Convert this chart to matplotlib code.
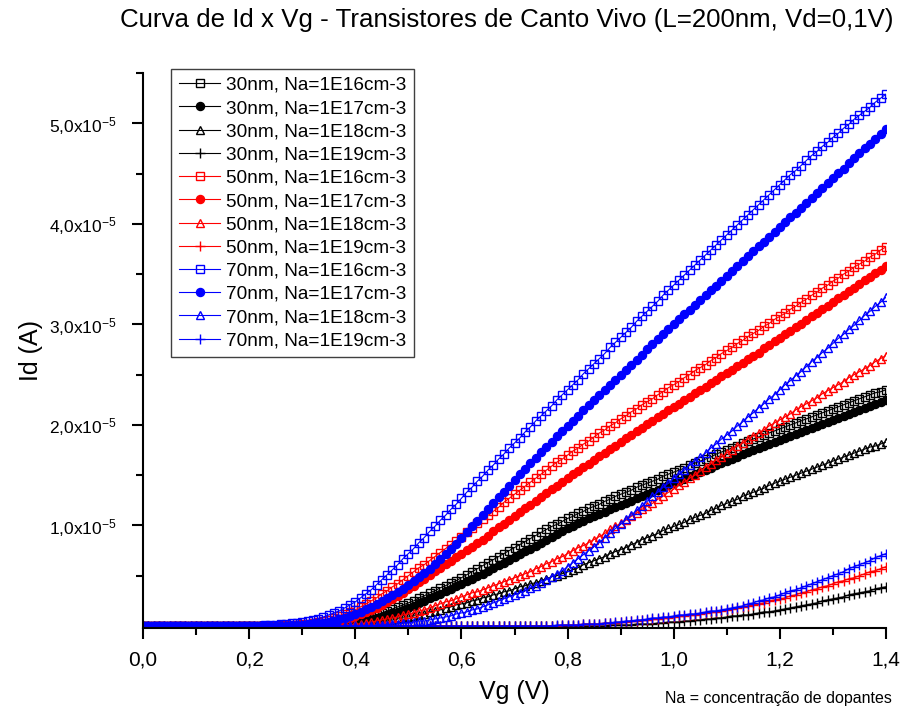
import numpy as np
import matplotlib
matplotlib.use("Agg")
import matplotlib.pyplot as plt
from matplotlib.ticker import MultipleLocator, FuncFormatter

plt.rcParams['font.family'] = ['Liberation Sans', 'DejaVu Sans']
plt.rcParams['mathtext.fontset'] = 'custom'
plt.rcParams['mathtext.rm'] = 'Liberation Sans'

# gate sweep 0 .. 1.4 V, 10 mV step
vg = np.round(np.arange(141) * 0.01, 2)

# drain current, in units of 1e-5 A, one value per gate step
id_30_16 = [0, 0, 0, 0, 0, 0, 0, 0, 0, 0,
            0, 0, 0, 0, 0, 0, 0, 0, 0, 0,
            0, 0, 0, 0, 0, 0, 0, 0, 0, 0,
            0, 0,
            0.00, 0.01, 0.01, 0.01, 0.02, 0.03, 0.04, 0.05, 0.06, 0.07, 0.08, 0.10, 0.11, 0.13,
            0.15, 0.17, 0.19, 0.21, 0.23, 0.25, 0.28, 0.30, 0.33, 0.35, 0.38, 0.40, 0.43, 0.45, 0.48,
            0.51, 0.54, 0.57, 0.60, 0.63, 0.66, 0.69, 0.72, 0.75, 0.78, 0.81, 0.84, 0.87, 0.90, 0.93,
            0.96, 0.99, 1.01, 1.04, 1.07, 1.09, 1.12, 1.14, 1.17, 1.19, 1.21, 1.24, 1.26, 1.29, 1.31,
            1.33, 1.35, 1.38, 1.40, 1.42, 1.44, 1.46, 1.49, 1.51, 1.53, 1.55, 1.57, 1.60, 1.62, 1.64,
            1.66, 1.68, 1.71, 1.73, 1.75, 1.77, 1.79, 1.82, 1.84, 1.86, 1.88, 1.90, 1.92, 1.94, 1.96,
            1.98, 2.00, 2.02, 2.04, 2.06, 2.08, 2.10, 2.12, 2.14, 2.16, 2.18, 2.20, 2.22, 2.24, 2.26,
            2.28, 2.30, 2.32, 2.33, 2.35]
id_30_17 = [0, 0, 0, 0, 0, 0, 0, 0, 0, 0,
            0, 0, 0, 0, 0, 0, 0, 0, 0, 0,
            0, 0, 0, 0, 0, 0, 0, 0, 0, 0,
            0, 0, 0, 0, 0,
            0.00,
            0.01, 0.01, 0.02, 0.02, 0.03, 0.04, 0.05, 0.06, 0.08, 0.09, 0.11, 0.13, 0.14, 0.16, 0.18,
            0.20, 0.23, 0.25, 0.28, 0.30, 0.32, 0.35, 0.37, 0.40, 0.42, 0.45, 0.47, 0.50, 0.52, 0.55,
            0.58, 0.61, 0.63, 0.66, 0.69, 0.72, 0.75, 0.77, 0.80, 0.83, 0.86, 0.89, 0.91, 0.94, 0.97,
            0.99, 1.02, 1.04, 1.07, 1.09, 1.11, 1.13, 1.16, 1.18, 1.20, 1.22, 1.24, 1.27, 1.29, 1.31,
            1.33, 1.35, 1.38, 1.40, 1.42, 1.44, 1.46, 1.49, 1.51, 1.53, 1.55, 1.57, 1.60, 1.62, 1.64,
            1.66, 1.68, 1.71, 1.73, 1.75, 1.77, 1.79, 1.81, 1.83, 1.85, 1.87, 1.89, 1.91, 1.93, 1.95,
            1.97, 1.99, 2.01, 2.03, 2.05, 2.07, 2.09, 2.11, 2.13, 2.15, 2.17, 2.19, 2.21, 2.23, 2.25]
id_30_18 = [0, 0, 0, 0, 0, 0, 0, 0, 0, 0,
            0, 0, 0, 0, 0, 0, 0, 0, 0, 0,
            0, 0, 0, 0, 0, 0, 0, 0, 0, 0,
            0, 0, 0, 0, 0, 0, 0, 0,
            0.00, 0.01, 0.01, 0.01, 0.02, 0.02, 0.03, 0.04, 0.05, 0.06, 0.07, 0.08, 0.09,
            0.10, 0.11, 0.12, 0.14, 0.15, 0.16, 0.18, 0.19, 0.21, 0.22, 0.23, 0.25, 0.26, 0.28, 0.29,
            0.31, 0.32, 0.34, 0.35, 0.37, 0.39, 0.40, 0.42, 0.43, 0.45, 0.47, 0.49, 0.50, 0.52, 0.54,
            0.56, 0.58, 0.61, 0.63, 0.65, 0.67, 0.69, 0.72, 0.74, 0.76, 0.78, 0.81, 0.83, 0.86, 0.88,
            0.90, 0.92, 0.95, 0.97, 0.99, 1.01, 1.03, 1.06, 1.08, 1.10, 1.12, 1.15, 1.17, 1.20, 1.22,
            1.24, 1.26, 1.29, 1.31, 1.33, 1.35, 1.37, 1.40, 1.42, 1.44, 1.46, 1.48, 1.50, 1.52, 1.54,
            1.56, 1.58, 1.60, 1.62, 1.64, 1.66, 1.68, 1.70, 1.72, 1.74, 1.76, 1.78, 1.79, 1.81, 1.83]
id_30_19 = [0, 0, 0, 0, 0, 0, 0, 0, 0, 0,
            0, 0, 0, 0, 0, 0, 0, 0, 0, 0,
            0, 0, 0, 0, 0, 0, 0, 0, 0, 0,
            0, 0, 0, 0, 0, 0, 0, 0, 0, 0,
            0, 0, 0, 0, 0, 0, 0, 0, 0, 0,
            0, 0, 0, 0, 0, 0, 0, 0, 0, 0,
            0, 0, 0, 0, 0, 0, 0, 0, 0, 0,
            0, 0, 0, 0, 0, 0, 0, 0, 0, 0,
            0, 0, 0, 0, 0, 0, 0,
            0.00, 0.01, 0.01, 0.01, 0.01, 0.01, 0.02, 0.02, 0.02, 0.02, 0.03, 0.03, 0.04, 0.04,
            0.04, 0.05, 0.05, 0.06, 0.06, 0.07, 0.07, 0.08, 0.08, 0.09, 0.10, 0.10, 0.11, 0.11, 0.12,
            0.13, 0.14, 0.14, 0.15, 0.16, 0.17, 0.18, 0.19, 0.20, 0.21, 0.22, 0.23, 0.25, 0.26, 0.27,
            0.28, 0.29, 0.31, 0.32, 0.33, 0.34, 0.35, 0.37, 0.38, 0.39]
id_50_16 = [0, 0, 0, 0, 0, 0, 0, 0, 0, 0,
            0, 0, 0, 0, 0, 0, 0, 0, 0, 0,
            0, 0, 0, 0, 0, 0,
            0.00, 0.01, 0.01, 0.01, 0.02, 0.02, 0.03, 0.04, 0.05, 0.06, 0.08, 0.10, 0.12, 0.14, 0.16,
            0.19, 0.22, 0.25, 0.28, 0.32, 0.35, 0.39, 0.42, 0.46, 0.50, 0.54, 0.58, 0.61, 0.65, 0.69,
            0.73, 0.77, 0.81, 0.85, 0.89, 0.93, 0.97, 1.02, 1.06, 1.10, 1.14, 1.18, 1.23, 1.27, 1.31,
            1.35, 1.39, 1.43, 1.47, 1.51, 1.55, 1.59, 1.63, 1.66, 1.70, 1.74, 1.77, 1.81, 1.84, 1.88,
            1.92, 1.95, 1.99, 2.02, 2.06, 2.09, 2.13, 2.16, 2.20, 2.23, 2.26, 2.30, 2.33, 2.37, 2.40,
            2.43, 2.47, 2.50, 2.54, 2.57, 2.60, 2.64, 2.67, 2.71, 2.74, 2.77, 2.81, 2.84, 2.88, 2.91,
            2.94, 2.98, 3.01, 3.05, 3.08, 3.11, 3.15, 3.18, 3.22, 3.25, 3.29, 3.32, 3.36, 3.39, 3.43,
            3.46, 3.50, 3.53, 3.57, 3.60, 3.63, 3.67, 3.70, 3.74, 3.77]
id_50_17 = [0, 0, 0, 0, 0, 0, 0, 0, 0, 0,
            0, 0, 0, 0, 0, 0, 0, 0, 0, 0,
            0, 0, 0, 0, 0, 0, 0, 0,
            0.00, 0.01, 0.01, 0.01, 0.02, 0.02, 0.03, 0.03, 0.04, 0.05, 0.07, 0.08, 0.10,
            0.12, 0.14, 0.16, 0.18, 0.21, 0.24, 0.27, 0.30, 0.33, 0.37, 0.40, 0.44, 0.47, 0.51, 0.55,
            0.58, 0.62, 0.65, 0.69, 0.72, 0.76, 0.79, 0.83, 0.86, 0.90, 0.94, 0.98, 1.01, 1.05, 1.09,
            1.13, 1.17, 1.20, 1.24, 1.28, 1.32, 1.36, 1.39, 1.43, 1.47, 1.51, 1.54, 1.58, 1.61, 1.65,
            1.69, 1.72, 1.76, 1.79, 1.83, 1.87, 1.90, 1.94, 1.97, 2.01, 2.04, 2.08, 2.11, 2.15, 2.18,
            2.21, 2.25, 2.28, 2.32, 2.35, 2.38, 2.42, 2.45, 2.49, 2.52, 2.55, 2.59, 2.62, 2.66, 2.69,
            2.72, 2.76, 2.79, 2.83, 2.86, 2.90, 2.93, 2.97, 3.00, 3.04, 3.08, 3.11, 3.15, 3.18, 3.22,
            3.26, 3.29, 3.33, 3.36, 3.40, 3.44, 3.47, 3.51, 3.54, 3.58]
id_50_18 = [0, 0, 0, 0, 0, 0, 0, 0, 0, 0,
            0, 0, 0, 0, 0, 0, 0, 0, 0, 0,
            0, 0, 0, 0, 0, 0, 0, 0, 0, 0,
            0, 0, 0, 0, 0, 0,
            0.00, 0.01, 0.01, 0.01, 0.02, 0.02, 0.03, 0.04, 0.05, 0.06, 0.07, 0.08, 0.09, 0.11, 0.12,
            0.13, 0.15, 0.16, 0.18, 0.20, 0.22, 0.24, 0.25, 0.27, 0.29, 0.31, 0.33, 0.34, 0.36, 0.38,
            0.40, 0.42, 0.44, 0.46, 0.48, 0.50, 0.52, 0.54, 0.57, 0.59, 0.62, 0.64, 0.67, 0.69, 0.72,
            0.75, 0.78, 0.80, 0.83, 0.86, 0.89, 0.92, 0.96, 0.99, 1.02, 1.05, 1.09, 1.12, 1.16, 1.19,
            1.22, 1.26, 1.29, 1.33, 1.36, 1.40, 1.43, 1.47, 1.50, 1.54, 1.58, 1.61, 1.65, 1.68, 1.72,
            1.75, 1.79, 1.82, 1.86, 1.89, 1.92, 1.95, 1.99, 2.02, 2.05, 2.08, 2.11, 2.15, 2.18, 2.21,
            2.24, 2.27, 2.31, 2.34, 2.37, 2.40, 2.43, 2.47, 2.50, 2.53, 2.56, 2.59, 2.63, 2.66, 2.69]
id_50_19 = [0, 0, 0, 0, 0, 0, 0, 0, 0, 0,
            0, 0, 0, 0, 0, 0, 0, 0, 0, 0,
            0, 0, 0, 0, 0, 0, 0, 0, 0, 0,
            0, 0, 0, 0, 0, 0, 0, 0, 0, 0,
            0, 0, 0, 0, 0, 0, 0, 0, 0, 0,
            0, 0, 0, 0, 0, 0, 0, 0, 0, 0,
            0, 0, 0, 0, 0, 0, 0, 0, 0, 0,
            0, 0, 0, 0, 0, 0, 0, 0,
            0.00, 0.01, 0.01,
            0.01, 0.01, 0.02, 0.02, 0.02, 0.02, 0.03, 0.03, 0.03, 0.04, 0.04, 0.05, 0.05, 0.06, 0.06,
            0.07, 0.07, 0.08, 0.08, 0.09, 0.10, 0.10, 0.11, 0.11, 0.12, 0.13, 0.14, 0.14, 0.15, 0.16,
            0.17, 0.18, 0.19, 0.20, 0.21, 0.22, 0.23, 0.25, 0.26, 0.27, 0.28, 0.30, 0.31, 0.33, 0.34,
            0.36, 0.37, 0.39, 0.40, 0.42, 0.44, 0.45, 0.47, 0.48, 0.50, 0.52, 0.54, 0.55, 0.57, 0.59]
id_70_16 = [0, 0, 0, 0, 0, 0, 0, 0, 0, 0,
            0, 0, 0, 0, 0, 0, 0, 0, 0, 0,
            0,
            0.00, 0.00, 0.01, 0.01, 0.01, 0.02, 0.02, 0.03, 0.03, 0.04, 0.05, 0.06, 0.07, 0.09, 0.11,
            0.13, 0.15, 0.18, 0.21, 0.24, 0.28, 0.32, 0.36, 0.41, 0.46, 0.51, 0.56, 0.61, 0.67, 0.72,
            0.77, 0.83, 0.88, 0.94, 0.99, 1.05, 1.10, 1.16, 1.21, 1.27, 1.33, 1.38, 1.44, 1.49, 1.55,
            1.60, 1.66, 1.71, 1.77, 1.82, 1.87, 1.93, 1.98, 2.04, 2.09, 2.14, 2.19, 2.25, 2.30, 2.35,
            2.40, 2.45, 2.51, 2.56, 2.61, 2.66, 2.71, 2.77, 2.82, 2.87, 2.92, 2.97, 3.03, 3.08, 3.13,
            3.18, 3.23, 3.29, 3.34, 3.39, 3.44, 3.49, 3.54, 3.59, 3.64, 3.69, 3.74, 3.79, 3.84, 3.89,
            3.94, 3.99, 4.04, 4.09, 4.14, 4.19, 4.24, 4.29, 4.34, 4.39, 4.44, 4.49, 4.53, 4.58, 4.63,
            4.68, 4.72, 4.77, 4.81, 4.86, 4.90, 4.95, 4.99, 5.04, 5.08, 5.12, 5.16, 5.21, 5.25, 5.29]
id_70_17 = [0, 0, 0, 0, 0, 0, 0, 0, 0, 0,
            0, 0, 0, 0, 0, 0, 0, 0, 0, 0,
            0, 0, 0, 0, 0, 0,
            0.00, 0.00, 0.01, 0.01, 0.01, 0.02, 0.02, 0.03, 0.03, 0.04, 0.05, 0.07, 0.08, 0.10, 0.12,
            0.14, 0.17, 0.19, 0.22, 0.25, 0.28, 0.31, 0.34, 0.37, 0.41, 0.45, 0.49, 0.53, 0.57, 0.62,
            0.67, 0.72, 0.77, 0.82, 0.88, 0.93, 0.99, 1.04, 1.10, 1.16, 1.22, 1.28, 1.33, 1.39, 1.45,
            1.51, 1.56, 1.62, 1.67, 1.73, 1.78, 1.83, 1.89, 1.94, 1.99, 2.04, 2.09, 2.15, 2.20, 2.25,
            2.30, 2.35, 2.40, 2.45, 2.50, 2.55, 2.60, 2.65, 2.70, 2.75, 2.80, 2.85, 2.90, 2.95, 3.00,
            3.05, 3.10, 3.14, 3.19, 3.24, 3.29, 3.34, 3.38, 3.43, 3.48, 3.53, 3.58, 3.63, 3.68, 3.73,
            3.78, 3.82, 3.87, 3.92, 3.97, 4.02, 4.07, 4.11, 4.16, 4.21, 4.26, 4.31, 4.36, 4.41, 4.46,
            4.51, 4.55, 4.60, 4.65, 4.70, 4.75, 4.79, 4.84, 4.89, 4.94]
id_70_18 = [0, 0, 0, 0, 0, 0, 0, 0, 0, 0,
            0, 0, 0, 0, 0, 0, 0, 0, 0, 0,
            0, 0, 0, 0, 0, 0, 0, 0, 0, 0,
            0, 0, 0, 0, 0, 0, 0, 0, 0, 0,
            0, 0, 0,
            0.00, 0.01, 0.01, 0.01, 0.02, 0.02, 0.03, 0.03, 0.04, 0.05, 0.05, 0.06, 0.07,
            0.08, 0.09, 0.10, 0.12, 0.13, 0.14, 0.16, 0.17, 0.19, 0.21, 0.23, 0.25, 0.27, 0.29, 0.31,
            0.33, 0.35, 0.38, 0.40, 0.43, 0.46, 0.49, 0.52, 0.55, 0.59, 0.63, 0.67, 0.71, 0.75, 0.79,
            0.83, 0.88, 0.92, 0.97, 1.01, 1.06, 1.10, 1.15, 1.19, 1.24, 1.29, 1.33, 1.38, 1.42, 1.47,
            1.51, 1.55, 1.60, 1.64, 1.68, 1.72, 1.77, 1.81, 1.86, 1.90, 1.94, 1.99, 2.03, 2.08, 2.12,
            2.17, 2.21, 2.26, 2.30, 2.35, 2.40, 2.44, 2.49, 2.53, 2.58, 2.63, 2.67, 2.72, 2.76, 2.81,
            2.86, 2.90, 2.95, 2.99, 3.04, 3.09, 3.13, 3.18, 3.22, 3.27]
id_70_19 = [0, 0, 0, 0, 0, 0, 0, 0, 0, 0,
            0, 0, 0, 0, 0, 0, 0, 0, 0, 0,
            0, 0, 0, 0, 0, 0, 0, 0, 0, 0,
            0, 0, 0, 0, 0, 0, 0, 0, 0, 0,
            0, 0, 0, 0, 0, 0, 0, 0, 0, 0,
            0, 0, 0, 0, 0, 0, 0, 0, 0, 0,
            0, 0, 0, 0, 0, 0, 0, 0, 0, 0,
            0, 0, 0, 0, 0, 0, 0,
            0.00, 0.01, 0.01, 0.01,
            0.01, 0.01, 0.02, 0.02, 0.02, 0.02, 0.03, 0.03, 0.04, 0.04, 0.05, 0.05, 0.06, 0.06, 0.07,
            0.08, 0.08, 0.09, 0.09, 0.10, 0.11, 0.11, 0.12, 0.12, 0.13, 0.14, 0.15, 0.15, 0.16, 0.17,
            0.18, 0.19, 0.20, 0.22, 0.23, 0.25, 0.26, 0.28, 0.29, 0.31, 0.33, 0.35, 0.36, 0.38, 0.40,
            0.42, 0.44, 0.46, 0.48, 0.50, 0.52, 0.54, 0.57, 0.59, 0.61, 0.63, 0.65, 0.68, 0.70, 0.72]

series = [
    ("30nm, Na=1E16cm-3", id_30_16, "black", "s"),
    ("30nm, Na=1E17cm-3", id_30_17, "black", "o"),
    ("30nm, Na=1E18cm-3", id_30_18, "black", "^"),
    ("30nm, Na=1E19cm-3", id_30_19, "black", "+"),
    ("50nm, Na=1E16cm-3", id_50_16, "red", "s"),
    ("50nm, Na=1E17cm-3", id_50_17, "red", "o"),
    ("50nm, Na=1E18cm-3", id_50_18, "red", "^"),
    ("50nm, Na=1E19cm-3", id_50_19, "red", "+"),
    ("70nm, Na=1E16cm-3", id_70_16, "blue", "s"),
    ("70nm, Na=1E17cm-3", id_70_17, "blue", "o"),
    ("70nm, Na=1E18cm-3", id_70_18, "blue", "^"),
    ("70nm, Na=1E19cm-3", id_70_19, "blue", "+"),
]

msize = {"s": 5.3, "o": 5.8, "^": 6.3, "+": 6.8}

fig = plt.figure(figsize=(9.01, 7.13), dpi=100)
ax = fig.add_axes([143 / 901, 85 / 713, 743 / 901, 555 / 713])

for label, vals, color, mk in series:
    ax.plot(vg, np.array(vals) * 1e-5, color=color, lw=0.8, marker=mk,
            ms=msize[mk], mec=color, mew=1.0,
            mfc=color if mk == "o" else "none", label=label)

ax.set_xlim(0, 1.4)
ax.set_ylim(-0.02e-5, 5.5e-5)

ax.spines["top"].set_visible(False)
ax.spines["right"].set_visible(False)
for side in ("left", "bottom"):
    ax.spines[side].set_linewidth(1.5)

ax.xaxis.set_major_locator(MultipleLocator(0.2))
ax.xaxis.set_minor_locator(MultipleLocator(0.1))
ax.xaxis.set_major_formatter(FuncFormatter(lambda v, p: ("%.1f" % v).replace(".", ",")))
ax.set_yticks([1e-5, 2e-5, 3e-5, 4e-5, 5e-5])
ax.set_yticks([0.5e-5, 1.5e-5, 2.5e-5, 3.5e-5, 4.5e-5, 5.5e-5], minor=True)
ax.yaxis.set_major_formatter(FuncFormatter(
    lambda v, p: r"$\mathregular{%d{,}0x10^{-5}}$" % round(v * 1e5)))

ax.tick_params(axis="both", which="major", direction="out", length=8, width=1.5)
ax.tick_params(axis="both", which="minor", direction="out", length=5, width=1.5)
ax.tick_params(axis="x", which="major", labelsize=15, pad=8)
ax.tick_params(axis="y", which="major", labelsize=12.5, pad=11)

ax.set_xlabel("Vg (V)", fontsize=18, labelpad=8)
ax.set_ylabel("Id (A)", fontsize=18, labelpad=4)

fig.text(507 / 901, 1 - 20 / 713, "Curva de Id x Vg - Transistores de Canto Vivo (L=200nm, Vd=0,1V)",
         ha="center", va="center", fontsize=18.6)
fig.text(892 / 901, 1 - 699 / 713, "Na = concentração de dopantes",
         ha="right", va="center", fontsize=11.5)

leg = ax.legend(loc="upper left", bbox_to_anchor=(171 / 901, 1 - 69 / 713),
                bbox_transform=fig.transFigure, borderaxespad=0, fontsize=13.7,
                numpoints=1, handlelength=2.2, handletextpad=0.3, labelspacing=0.31,
                borderpad=0.4, fancybox=False, framealpha=1, edgecolor="#404040")
leg.get_frame().set_linewidth(1.0)

fig.savefig("out.png", dpi=100)
